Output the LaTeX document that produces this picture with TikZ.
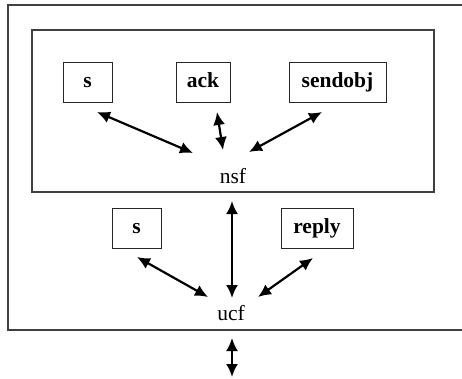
\documentclass[tikz,border=0pt]{standalone}
\usepackage{fontspec}
\setmainfont{Liberation Serif}
\usetikzlibrary{arrows.meta}
\begin{document}
\begin{tikzpicture}[x=1pt,y=-1pt,
  frame/.style={draw=black!75,line width=1.2pt},
  lbox/.style={draw=black!85,line width=1pt,minimum height=40pt,inner sep=0pt,text height=15pt,text depth=5pt,font=\fontsize{21.5}{25}\selectfont\bfseries},
  lbl/.style={inner sep=1pt,font=\fontsize{21.5}{25}\selectfont},
  link/.style={line width=2.2pt,{Latex[length=13pt,width=12pt]}-{Latex[length=13pt,width=12pt]}}]
\useasboundingbox (0,0) rectangle (462,378);
\clip (0,0) rectangle (462,378);
\draw[frame] (8,5) rectangle (490,330);
\draw[frame] (32,30) rectangle (434,192);
\node[lbox,minimum width=49pt] (s1) at (87.5,82) {s};
\node[lbox,minimum width=54pt] (ack) at (203,82) {ack};
\node[lbox,minimum width=97pt] (send) at (337.5,82) {sendobj};
\node[lbl] (nsf) at (233,176) {nsf};
\node[lbox,minimum width=49pt] (s2) at (136.5,228.5) {s};
\node[lbox,minimum width=72pt] (reply) at (317,228.5) {reply};
\node[lbl] (ucf) at (231,313) {ucf};
\coordinate (a1) at (97,112);
\coordinate (b1) at (193,153);
\coordinate (a2) at (217,112);
\coordinate (b2) at (223,150);
\coordinate (a3) at (322,112);
\coordinate (b3) at (249,152);
\coordinate (c1) at (232,201);
\coordinate (d1) at (232,298);
\coordinate (c2) at (137,257);
\coordinate (d2) at (208,297);
\coordinate (c3) at (313,258);
\coordinate (d3) at (258,297);
\coordinate (e1) at (232,338);
\coordinate (e2) at (232,377);
\draw[link] (a1) -- (b1);
\draw[link] (a2) -- (b2);
\draw[link] (a3) -- (b3);
\draw[link] (c1) -- (d1);
\draw[link] (c2) -- (d2);
\draw[link] (c3) -- (d3);
\draw[link] (e1) -- (e2);
\end{tikzpicture}
\end{document}
